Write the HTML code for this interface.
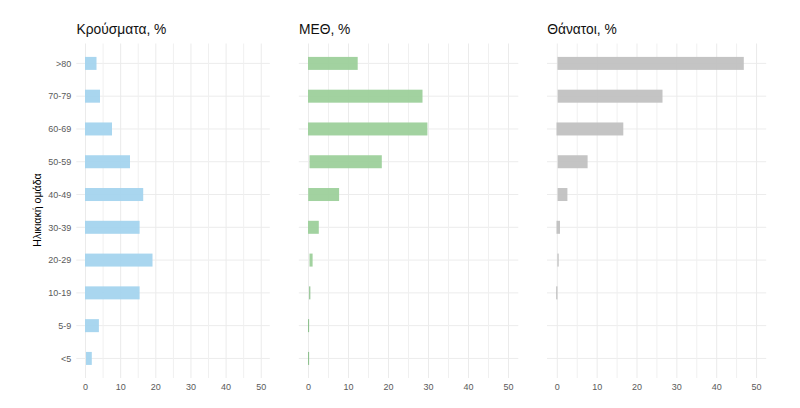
<!DOCTYPE html>
<html lang="el"><head><meta charset="utf-8"><title>chart</title>
<style>
html,body{margin:0;padding:0;background:#fff;}
svg{display:block;}
text{font-family:"Liberation Sans",Arial,sans-serif;}
.t{font-size:13.8px;fill:#111;}
.a{font-size:9px;fill:#5a5a5a;}
.yl{font-size:11px;fill:#000;}
</style></head><body>
<svg width="800" height="408" viewBox="0 0 800 408">
<rect width="800" height="408" fill="#ffffff"/>

<g>
<line x1="76.3" x2="269.8" y1="63.40" y2="63.40" stroke="#ececec" stroke-width="1"/>
<line x1="76.3" x2="269.8" y1="96.18" y2="96.18" stroke="#ececec" stroke-width="1"/>
<line x1="76.3" x2="269.8" y1="128.96" y2="128.96" stroke="#ececec" stroke-width="1"/>
<line x1="76.3" x2="269.8" y1="161.74" y2="161.74" stroke="#ececec" stroke-width="1"/>
<line x1="76.3" x2="269.8" y1="194.52" y2="194.52" stroke="#ececec" stroke-width="1"/>
<line x1="76.3" x2="269.8" y1="227.30" y2="227.30" stroke="#ececec" stroke-width="1"/>
<line x1="76.3" x2="269.8" y1="260.08" y2="260.08" stroke="#ececec" stroke-width="1"/>
<line x1="76.3" x2="269.8" y1="292.86" y2="292.86" stroke="#ececec" stroke-width="1"/>
<line x1="76.3" x2="269.8" y1="325.64" y2="325.64" stroke="#ececec" stroke-width="1"/>
<line x1="76.3" x2="269.8" y1="358.42" y2="358.42" stroke="#ececec" stroke-width="1"/>
<line x1="85.50" x2="85.50" y1="43.5" y2="378.0" stroke="#ebebeb" stroke-width="1"/>
<line x1="103.08" x2="103.08" y1="43.5" y2="378.0" stroke="#f0f0f0" stroke-width="1"/>
<line x1="120.65" x2="120.65" y1="43.5" y2="378.0" stroke="#ebebeb" stroke-width="1"/>
<line x1="138.22" x2="138.22" y1="43.5" y2="378.0" stroke="#f0f0f0" stroke-width="1"/>
<line x1="155.80" x2="155.80" y1="43.5" y2="378.0" stroke="#ebebeb" stroke-width="1"/>
<line x1="173.38" x2="173.38" y1="43.5" y2="378.0" stroke="#f0f0f0" stroke-width="1"/>
<line x1="190.95" x2="190.95" y1="43.5" y2="378.0" stroke="#ebebeb" stroke-width="1"/>
<line x1="208.53" x2="208.53" y1="43.5" y2="378.0" stroke="#f0f0f0" stroke-width="1"/>
<line x1="226.10" x2="226.10" y1="43.5" y2="378.0" stroke="#ebebeb" stroke-width="1"/>
<line x1="243.68" x2="243.68" y1="43.5" y2="378.0" stroke="#f0f0f0" stroke-width="1"/>
<line x1="261.25" x2="261.25" y1="43.5" y2="378.0" stroke="#ebebeb" stroke-width="1"/>
<rect x="85.00" y="56.90" width="11.50" height="13.0" fill="#a3d3ee" fill-opacity="0.93"/>
<rect x="85.00" y="89.68" width="15.00" height="13.0" fill="#a3d3ee" fill-opacity="0.93"/>
<rect x="85.00" y="122.46" width="27.00" height="13.0" fill="#a3d3ee" fill-opacity="0.93"/>
<rect x="85.00" y="155.24" width="45.00" height="13.0" fill="#a3d3ee" fill-opacity="0.93"/>
<rect x="85.00" y="188.02" width="58.20" height="13.0" fill="#a3d3ee" fill-opacity="0.93"/>
<rect x="85.00" y="220.80" width="54.60" height="13.0" fill="#a3d3ee" fill-opacity="0.93"/>
<rect x="85.00" y="253.58" width="67.50" height="13.0" fill="#a3d3ee" fill-opacity="0.93"/>
<rect x="85.00" y="286.36" width="54.60" height="13.0" fill="#a3d3ee" fill-opacity="0.93"/>
<rect x="85.00" y="319.14" width="13.90" height="13.0" fill="#a3d3ee" fill-opacity="0.93"/>
<rect x="86.00" y="351.92" width="5.80" height="13.0" fill="#a3d3ee" fill-opacity="0.93"/>
<text class="a" x="85.50" y="390" text-anchor="middle">0</text>
<text class="a" x="120.65" y="390" text-anchor="middle">10</text>
<text class="a" x="155.80" y="390" text-anchor="middle">20</text>
<text class="a" x="190.95" y="390" text-anchor="middle">30</text>
<text class="a" x="226.10" y="390" text-anchor="middle">40</text>
<text class="a" x="261.25" y="390" text-anchor="middle">50</text>
<text class="t" x="76.5" y="34">Κρούσματα, %</text>
</g>
<g>
<line x1="298.8" x2="518.3" y1="63.40" y2="63.40" stroke="#ececec" stroke-width="1"/>
<line x1="298.8" x2="518.3" y1="96.18" y2="96.18" stroke="#ececec" stroke-width="1"/>
<line x1="298.8" x2="518.3" y1="128.96" y2="128.96" stroke="#ececec" stroke-width="1"/>
<line x1="298.8" x2="518.3" y1="161.74" y2="161.74" stroke="#ececec" stroke-width="1"/>
<line x1="298.8" x2="518.3" y1="194.52" y2="194.52" stroke="#ececec" stroke-width="1"/>
<line x1="298.8" x2="518.3" y1="227.30" y2="227.30" stroke="#ececec" stroke-width="1"/>
<line x1="298.8" x2="518.3" y1="260.08" y2="260.08" stroke="#ececec" stroke-width="1"/>
<line x1="298.8" x2="518.3" y1="292.86" y2="292.86" stroke="#ececec" stroke-width="1"/>
<line x1="298.8" x2="518.3" y1="325.64" y2="325.64" stroke="#ececec" stroke-width="1"/>
<line x1="298.8" x2="518.3" y1="358.42" y2="358.42" stroke="#ececec" stroke-width="1"/>
<line x1="308.50" x2="308.50" y1="43.5" y2="378.0" stroke="#ebebeb" stroke-width="1"/>
<line x1="328.50" x2="328.50" y1="43.5" y2="378.0" stroke="#f0f0f0" stroke-width="1"/>
<line x1="348.50" x2="348.50" y1="43.5" y2="378.0" stroke="#ebebeb" stroke-width="1"/>
<line x1="368.50" x2="368.50" y1="43.5" y2="378.0" stroke="#f0f0f0" stroke-width="1"/>
<line x1="388.50" x2="388.50" y1="43.5" y2="378.0" stroke="#ebebeb" stroke-width="1"/>
<line x1="408.50" x2="408.50" y1="43.5" y2="378.0" stroke="#f0f0f0" stroke-width="1"/>
<line x1="428.50" x2="428.50" y1="43.5" y2="378.0" stroke="#ebebeb" stroke-width="1"/>
<line x1="448.50" x2="448.50" y1="43.5" y2="378.0" stroke="#f0f0f0" stroke-width="1"/>
<line x1="468.50" x2="468.50" y1="43.5" y2="378.0" stroke="#ebebeb" stroke-width="1"/>
<line x1="488.50" x2="488.50" y1="43.5" y2="378.0" stroke="#f0f0f0" stroke-width="1"/>
<line x1="508.50" x2="508.50" y1="43.5" y2="378.0" stroke="#ebebeb" stroke-width="1"/>
<rect x="308.00" y="56.90" width="49.70" height="13.0" fill="#9bcf99" fill-opacity="0.93"/>
<rect x="308.00" y="89.68" width="114.50" height="13.0" fill="#9bcf99" fill-opacity="0.93"/>
<rect x="308.00" y="122.46" width="119.40" height="13.0" fill="#9bcf99" fill-opacity="0.93"/>
<rect x="309.50" y="155.24" width="72.30" height="13.0" fill="#9bcf99" fill-opacity="0.93"/>
<rect x="308.20" y="188.02" width="30.90" height="13.0" fill="#9bcf99" fill-opacity="0.93"/>
<rect x="308.00" y="220.80" width="10.80" height="13.0" fill="#9bcf99" fill-opacity="0.93"/>
<rect x="309.50" y="253.58" width="3.10" height="13.0" fill="#9bcf99" fill-opacity="0.93"/>
<rect x="309.20" y="286.36" width="1.10" height="13.0" fill="#86bd86"/>
<rect x="308.10" y="319.14" width="1.00" height="13.0" fill="#86bd86"/>
<rect x="308.10" y="351.92" width="1.00" height="13.0" fill="#86bd86"/>
<text class="a" x="308.50" y="390" text-anchor="middle">0</text>
<text class="a" x="348.50" y="390" text-anchor="middle">10</text>
<text class="a" x="388.50" y="390" text-anchor="middle">20</text>
<text class="a" x="428.50" y="390" text-anchor="middle">30</text>
<text class="a" x="468.50" y="390" text-anchor="middle">40</text>
<text class="a" x="508.50" y="390" text-anchor="middle">50</text>
<text class="t" x="299.0" y="34">ΜΕΘ, %</text>
</g>
<g>
<line x1="547.0" x2="766.2" y1="63.40" y2="63.40" stroke="#ececec" stroke-width="1"/>
<line x1="547.0" x2="766.2" y1="96.18" y2="96.18" stroke="#ececec" stroke-width="1"/>
<line x1="547.0" x2="766.2" y1="128.96" y2="128.96" stroke="#ececec" stroke-width="1"/>
<line x1="547.0" x2="766.2" y1="161.74" y2="161.74" stroke="#ececec" stroke-width="1"/>
<line x1="547.0" x2="766.2" y1="194.52" y2="194.52" stroke="#ececec" stroke-width="1"/>
<line x1="547.0" x2="766.2" y1="227.30" y2="227.30" stroke="#ececec" stroke-width="1"/>
<line x1="547.0" x2="766.2" y1="260.08" y2="260.08" stroke="#ececec" stroke-width="1"/>
<line x1="547.0" x2="766.2" y1="292.86" y2="292.86" stroke="#ececec" stroke-width="1"/>
<line x1="547.0" x2="766.2" y1="325.64" y2="325.64" stroke="#ececec" stroke-width="1"/>
<line x1="547.0" x2="766.2" y1="358.42" y2="358.42" stroke="#ececec" stroke-width="1"/>
<line x1="557.30" x2="557.30" y1="43.5" y2="378.0" stroke="#ebebeb" stroke-width="1"/>
<line x1="577.22" x2="577.22" y1="43.5" y2="378.0" stroke="#f0f0f0" stroke-width="1"/>
<line x1="597.15" x2="597.15" y1="43.5" y2="378.0" stroke="#ebebeb" stroke-width="1"/>
<line x1="617.07" x2="617.07" y1="43.5" y2="378.0" stroke="#f0f0f0" stroke-width="1"/>
<line x1="637.00" x2="637.00" y1="43.5" y2="378.0" stroke="#ebebeb" stroke-width="1"/>
<line x1="656.92" x2="656.92" y1="43.5" y2="378.0" stroke="#f0f0f0" stroke-width="1"/>
<line x1="676.85" x2="676.85" y1="43.5" y2="378.0" stroke="#ebebeb" stroke-width="1"/>
<line x1="696.77" x2="696.77" y1="43.5" y2="378.0" stroke="#f0f0f0" stroke-width="1"/>
<line x1="716.70" x2="716.70" y1="43.5" y2="378.0" stroke="#ebebeb" stroke-width="1"/>
<line x1="736.62" x2="736.62" y1="43.5" y2="378.0" stroke="#f0f0f0" stroke-width="1"/>
<line x1="756.55" x2="756.55" y1="43.5" y2="378.0" stroke="#ebebeb" stroke-width="1"/>
<rect x="557.50" y="56.90" width="186.30" height="13.0" fill="#c0c0c0" fill-opacity="0.93"/>
<rect x="557.70" y="89.68" width="104.80" height="13.0" fill="#c0c0c0" fill-opacity="0.93"/>
<rect x="556.50" y="122.46" width="66.80" height="13.0" fill="#c0c0c0" fill-opacity="0.93"/>
<rect x="557.70" y="155.24" width="29.90" height="13.0" fill="#c0c0c0" fill-opacity="0.93"/>
<rect x="557.60" y="188.02" width="9.80" height="13.0" fill="#c0c0c0" fill-opacity="0.93"/>
<rect x="556.50" y="220.80" width="3.50" height="13.0" fill="#c0c0c0" fill-opacity="0.93"/>
<rect x="557.60" y="253.58" width="0.90" height="13.0" fill="#ababab"/>
<rect x="556.40" y="286.36" width="0.90" height="13.0" fill="#ababab"/>
<text class="a" x="557.30" y="390" text-anchor="middle">0</text>
<text class="a" x="597.15" y="390" text-anchor="middle">10</text>
<text class="a" x="637.00" y="390" text-anchor="middle">20</text>
<text class="a" x="676.85" y="390" text-anchor="middle">30</text>
<text class="a" x="716.70" y="390" text-anchor="middle">40</text>
<text class="a" x="756.55" y="390" text-anchor="middle">50</text>
<text class="t" x="547.2" y="34">Θάνατοι, %</text>
</g>
<text class="a" x="71.3" y="66.60" text-anchor="end">&gt;80</text>
<text class="a" x="71.3" y="99.38" text-anchor="end">70-79</text>
<text class="a" x="71.3" y="132.16" text-anchor="end">60-69</text>
<text class="a" x="71.3" y="164.94" text-anchor="end">50-59</text>
<text class="a" x="71.3" y="197.72" text-anchor="end">40-49</text>
<text class="a" x="71.3" y="230.50" text-anchor="end">30-39</text>
<text class="a" x="71.3" y="263.28" text-anchor="end">20-29</text>
<text class="a" x="71.3" y="296.06" text-anchor="end">10-19</text>
<text class="a" x="71.3" y="328.84" text-anchor="end">5-9</text>
<text class="a" x="71.3" y="361.62" text-anchor="end">&lt;5</text>
<text class="yl" transform="translate(41.4,210.0) rotate(-90)" text-anchor="middle" textLength="73.5" lengthAdjust="spacingAndGlyphs">Ηλικιακή ομάδα</text>
</svg></body></html>
